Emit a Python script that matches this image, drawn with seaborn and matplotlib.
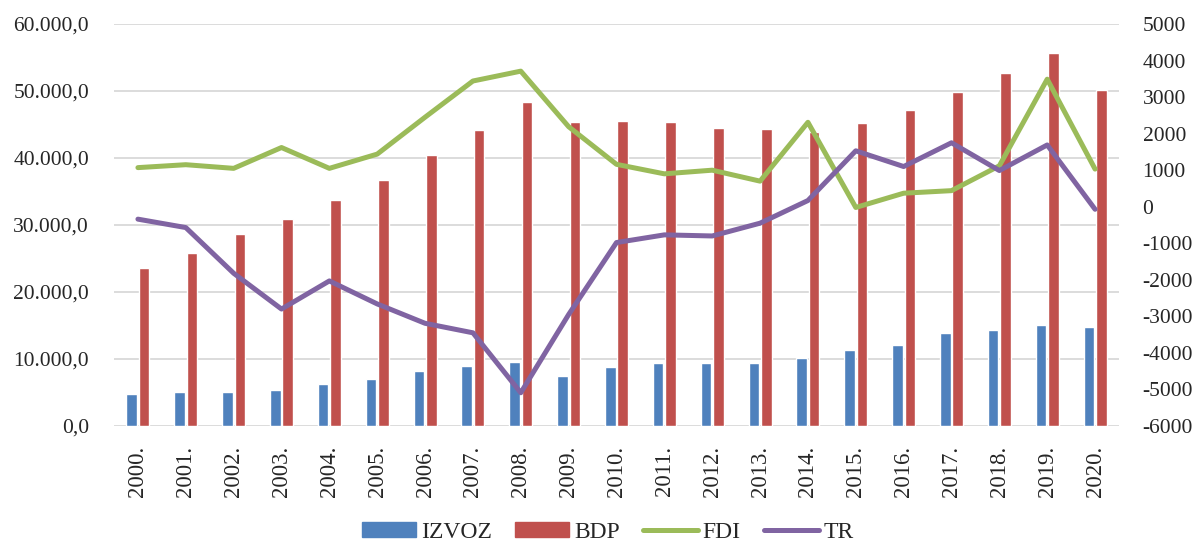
import numpy as np
import pandas as pd
import matplotlib
matplotlib.use("Agg")
import matplotlib.pyplot as plt
import matplotlib.ticker as mticker
from matplotlib.patches import Patch
from matplotlib.lines import Line2D
import seaborn as sns

# values
years = [f"{y}." for y in range(2000, 2021)]
izvoz = [4730, 5080, 5080, 5320, 6320, 6970, 8160, 8900, 9500, 7460, 8760,
         9450, 9350, 9400, 10150, 11340, 12140, 13880, 14380, 15080, 14730]
bdp = [23580, 25870, 28660, 30900, 33680, 36720, 40450, 44180, 48310, 45320, 45520,
       45320, 44480, 44330, 43880, 45170, 47210, 49900, 52690, 55620, 50150]
fdi = [1070, 1150, 1050, 1620, 1050, 1440, 2450, 3440, 3710, 2190, 1160,
       900, 1000, 700, 2310, -20, 370, 440, 1120, 3490, 1030]
tr = [-340, -570, -1820, -2800, -2030, -2660, -3190, -3450, -5090, -2950, -980,
      -770, -800, -450, 170, 1530, 1100, 1750, 990, 1690, -70]

colors = {"IZVOZ": "#4F81BD", "BDP": "#C0504D", "FDI": "#9BBB59", "TR": "#8064A2"}

bars = pd.DataFrame({"year": years * 2,
                     "value": izvoz + bdp,
                     "series": ["IZVOZ"] * len(years) + ["BDP"] * len(years)})
lines = pd.DataFrame({"pos": list(range(len(years))) * 2,
                      "value": fdi + tr,
                      "series": ["FDI"] * len(years) + ["TR"] * len(years)})

sns.set_theme(style="white")
plt.rcParams["font.family"] = ["Liberation Serif", "DejaVu Serif"]
fs = 15.5

fig = plt.figure(figsize=(11.96, 5.43), dpi=100)
ax = fig.add_axes([114 / 1196, 1 - 426 / 543, (1119 - 114) / 1196, (426 - 24) / 543])

sns.barplot(data=bars, x="year", y="value", hue="series", palette=colors,
            width=0.52, gap=0.15, saturation=1, legend=False, ax=ax, zorder=2)
ax.set_ylim(0, 60000)
ax.set_yticks(np.arange(0, 60001, 10000))
ax.yaxis.set_major_formatter(mticker.FuncFormatter(
    lambda v, p: f"{v:,.1f}".replace(",", "X").replace(".", ",").replace("X", ".")))
ax.grid(axis="y", color="#D9D9D9", linewidth=1.3, zorder=0)
ax.set_axisbelow(True)
for s in ax.spines.values():
    s.set_visible(False)
ax.set_xlabel("")
ax.set_ylabel("")
ax.tick_params(axis="x", rotation=90, labelsize=16.5, length=0, pad=14)
ax.tick_params(axis="y", labelsize=fs, length=0, pad=18)
ax.set_xlim(-0.5, len(years) - 0.5)

ax2 = ax.twinx()
sns.lineplot(data=lines, x="pos", y="value", hue="series", palette=colors,
             linewidth=3.6, legend=False, ax=ax2, sort=False)
ax2.set_ylim(-6000, 5000)
ax2.set_yticks(np.arange(-6000, 5001, 1000))
ax2.yaxis.set_major_formatter(mticker.FuncFormatter(lambda v, p: f"{int(v)}"))
ax2.tick_params(axis="y", labelsize=fs, length=0, pad=17)
ax2.set_xlabel("")
ax2.set_ylabel("")
for s in ax2.spines.values():
    s.set_visible(False)
ax2.set_xlim(-0.5, len(years) - 0.5)

handles = [Patch(color=colors["IZVOZ"], label="IZVOZ"),
           Patch(color=colors["BDP"], label="BDP"),
           Line2D([], [], color=colors["FDI"], linewidth=3.6, label="FDI"),
           Line2D([], [], color=colors["TR"], linewidth=3.6, label="TR")]
fig.legend(handles=handles, loc="center", bbox_to_anchor=(0.508, 1 - 532 / 543), ncol=4,
           frameon=False, fontsize=17, handlelength=2.3, handleheight=0.6,
           columnspacing=1.0, handletextpad=0.2, borderpad=0)

fig.savefig("out.png", dpi=100)
